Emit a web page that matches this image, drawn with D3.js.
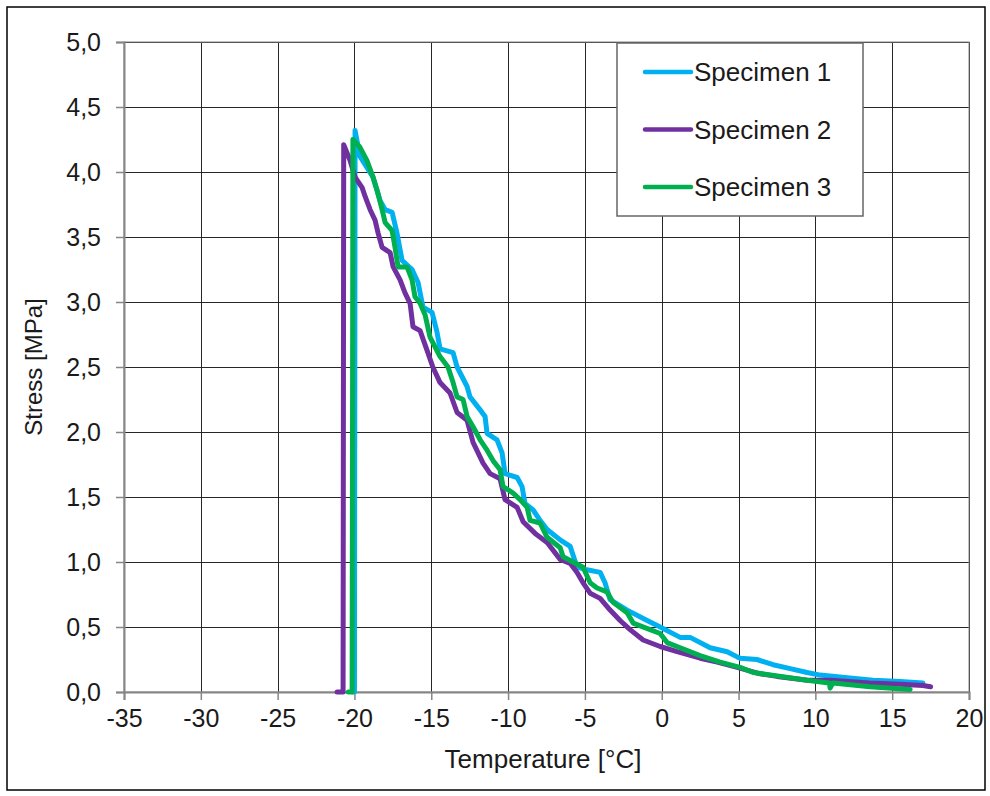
<!DOCTYPE html>
<html><head><meta charset="utf-8">
<script src="https://cdn.jsdelivr.net/npm/d3@7"></script>
<style>body{margin:0;background:#fff}svg{display:block}text{font-family:Arial,"Liberation Sans",sans-serif;fill:#1a1a1a}</style>
</head><body><svg id="c" width="990" height="796"></svg>
<script>
const seriesNames = ["Specimen 1", "Specimen 2", "Specimen 3"];
const seriesColors = ["#00B0F0", "#7030A0", "#00B050"];
const xTicks = [-35,-30,-25,-20,-15,-10,-5,0,5,10,15,20];
const yTicks = [0,0.5,1,1.5,2,2.5,3,3.5,4,4.5,5];
const specimen1 = [[-20.1,0],[-20.0,0],[-19.96,4.32],[-19.64,4.12],[-18.79,3.96],[-18.33,3.78],[-18.0,3.71],[-17.55,3.69],[-17.23,3.53],[-16.9,3.32],[-16.25,3.25],[-15.86,3.15],[-15.54,2.96],[-14.95,2.92],[-14.63,2.77],[-14.43,2.64],[-13.58,2.61],[-13.32,2.5],[-12.67,2.35],[-12.48,2.27],[-11.82,2.17],[-11.5,2.12],[-11.37,1.99],[-10.72,1.94],[-10.39,1.84],[-10.2,1.68],[-9.41,1.65],[-9.09,1.58],[-8.9,1.45],[-8.37,1.4],[-7.92,1.32],[-7.46,1.25],[-6.61,1.17],[-5.96,1.12],[-5.51,0.96],[-4.86,0.94],[-4.01,0.92],[-3.69,0.84],[-3.36,0.71],[-2.25,0.63],[-0.95,0.55],[-0.1,0.5],[1.2,0.42],[1.85,0.42],[3.15,0.34],[4.26,0.31],[4.91,0.27],[5.1,0.26],[6.2,0.25],[7.25,0.21],[8.36,0.18],[9.46,0.15],[10.31,0.13],[12.07,0.11],[13.76,0.09],[15.52,0.08],[17.0,0.07]];
const specimen2 = [[-21.13,0],[-20.74,0],[-20.7,4.21],[-20.29,4.09],[-19.96,3.96],[-19.5,3.88],[-19.3,3.81],[-18.98,3.71],[-18.66,3.63],[-18.46,3.53],[-18.2,3.42],[-17.68,3.38],[-17.48,3.27],[-17.03,3.17],[-16.71,3.07],[-16.38,2.99],[-16.19,2.81],[-15.73,2.78],[-15.28,2.63],[-14.9,2.5],[-14.43,2.38],[-13.78,2.3],[-13.32,2.15],[-12.67,2.09],[-12.28,1.92],[-11.63,1.76],[-11.17,1.68],[-10.52,1.64],[-10.2,1.48],[-9.41,1.42],[-9.02,1.31],[-8.24,1.22],[-7.46,1.15],[-6.61,1.02],[-5.96,0.99],[-5.51,0.92],[-5.12,0.84],[-4.66,0.76],[-4.01,0.72],[-3.36,0.63],[-2.71,0.55],[-2.06,0.48],[-1.21,0.4],[-0.1,0.35],[1.0,0.31],[2.5,0.26],[3.61,0.23],[4.91,0.19],[6.41,0.14],[7.5,0.12],[9.5,0.09],[11.0,0.09],[13.5,0.07],[15.5,0.06],[17.0,0.05],[17.5,0.04]];
const specimen3 = [[-20.4,0],[-20.15,0],[-20.1,4.25],[-19.64,4.19],[-19.19,4.09],[-18.79,3.96],[-18.53,3.86],[-18.2,3.71],[-18.0,3.61],[-17.55,3.55],[-17.36,3.42],[-17.16,3.27],[-16.58,3.27],[-16.25,3.17],[-16.06,3.04],[-15.73,2.99],[-15.4,2.9],[-15.08,2.73],[-14.43,2.58],[-13.91,2.5],[-13.58,2.38],[-13.32,2.27],[-12.93,2.25],[-12.67,2.12],[-12.28,2.04],[-11.82,1.94],[-11.37,1.86],[-10.98,1.78],[-10.52,1.71],[-10.33,1.58],[-9.67,1.53],[-9.22,1.48],[-8.76,1.42],[-8.57,1.32],[-7.92,1.3],[-7.46,1.19],[-6.61,1.11],[-6.42,1.04],[-5.77,1.0],[-5.12,0.96],[-4.66,0.84],[-4.21,0.8],[-3.56,0.77],[-3.17,0.69],[-2.25,0.61],[-1.86,0.53],[-0.76,0.48],[-0.1,0.45],[0.35,0.38],[1.2,0.34],[2.5,0.28],[3.8,0.23],[5.1,0.19],[5.95,0.15],[9.46,0.09],[10.9,0.07],[10.96,0.03],[11.15,0.07],[13.56,0.04],[16.17,0.02]];
const allSeries = [specimen1, specimen2, specimen3];

const svg = d3.select("#c");
const L = 124, R = 969, T = 42, B = 692;
const x = d3.scaleLinear().domain([-35, 20]).range([L, R]);
const y = d3.scaleLinear().domain([0, 5]).range([B, T]);
const fmt = v => d3.format(".1f")(v).replace(".", ",");

svg.append("rect").attr("x",7).attr("y",7).attr("width",978).attr("height",783)
  .attr("fill","#fff").attr("stroke","#000").attr("stroke-width",1.5);

// grid
const g = svg.append("g");
g.selectAll(".vg").data(xTicks).join("line")
  .attr("x1",d=>Math.round(x(d))+0.5).attr("x2",d=>Math.round(x(d))+0.5)
  .attr("y1",T).attr("y2",B).attr("stroke","#262626").attr("stroke-width",1);
g.selectAll(".hg").data(yTicks).join("line")
  .attr("y1",d=>Math.round(y(d))+0.5).attr("y2",d=>Math.round(y(d))+0.5)
  .attr("x1",L).attr("x2",R).attr("stroke","#262626").attr("stroke-width",1);

// axes
const xAxis = d3.axisBottom(x).tickValues(xTicks).tickSize(8).tickPadding(9).tickFormat(d=>d);
const yAxis = d3.axisLeft(y).tickValues(yTicks).tickSize(8).tickPadding(15).tickFormat(fmt);
const gx = svg.append("g").attr("transform",`translate(0,${B})`).call(xAxis);
const gy = svg.append("g").attr("transform",`translate(${L},0)`).call(yAxis);
[gx, gy].forEach(a => {
  a.select(".domain").attr("stroke","#868686").attr("stroke-width",2);
  a.selectAll(".tick line").attr("stroke","#868686").attr("stroke-width",1.5);
  a.selectAll(".tick text").attr("font-size",25).attr("fill","#1a1a1a")
    .attr("font-family","Arial, 'Liberation Sans', sans-serif");
});
svg.append("rect").attr("x",L).attr("y",T).attr("width",R-L).attr("height",B-T)
  .attr("fill","none").attr("stroke","#868686").attr("stroke-width",1);

// lines
const line = d3.line().x(d=>x(d[0])).y(d=>y(d[1]));
allSeries.forEach((s,i) => {
  svg.append("path").datum(s).attr("d",line).attr("fill","none")
    .attr("stroke",seriesColors[i]).attr("stroke-width",5)
    .attr("stroke-linejoin","round").attr("stroke-linecap","round");
});

// axis titles
svg.append("text").attr("x",543).attr("y",768).attr("text-anchor","middle")
  .attr("font-size",26).text("Temperature [°C]");
svg.append("text").attr("transform","translate(42,367) rotate(-90)").attr("text-anchor","middle")
  .attr("font-size",24).text("Stress [MPa]");

// legend
const lg = svg.append("g");
lg.append("rect").attr("x",617).attr("y",43).attr("width",246).attr("height",173)
  .attr("fill","#fff").attr("stroke","#666").attr("stroke-width",1.5);
seriesNames.forEach((n,i) => {
  const yy = 72 + i*57.5;
  lg.append("line").attr("x1",645).attr("x2",691).attr("y1",yy).attr("y2",yy)
    .attr("stroke",seriesColors[i]).attr("stroke-width",4.5).attr("stroke-linecap","round");
  lg.append("text").attr("x",694).attr("y",yy+9).attr("font-size",26).text(n);
});
</script></body></html>
